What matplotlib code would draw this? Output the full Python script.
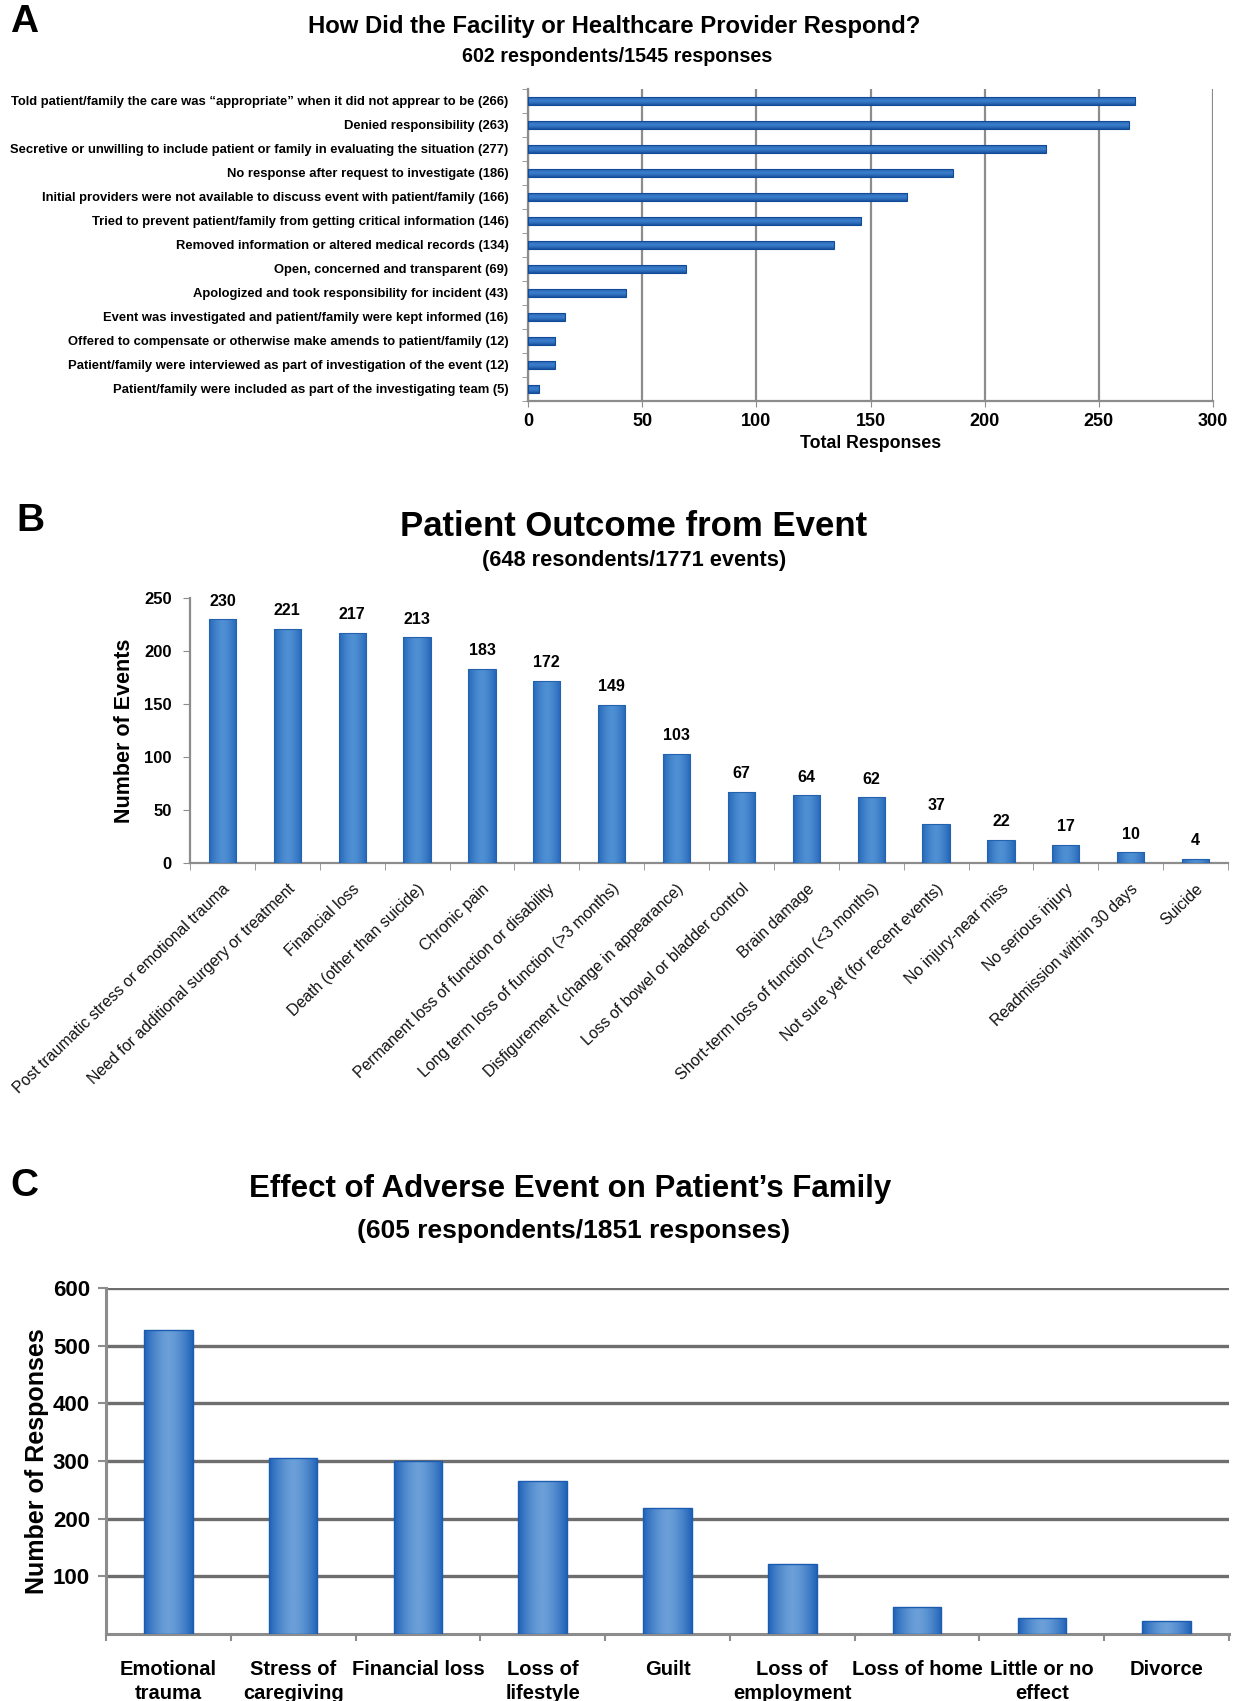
import numpy as np
import matplotlib
matplotlib.use("Agg")
import matplotlib.pyplot as plt
from matplotlib.colors import LinearSegmentedColormap
from matplotlib.ticker import FixedLocator, MultipleLocator

plt.rcParams["font.family"] = ["Liberation Sans", "DejaVu Sans"]

# --- Panel A: facility response (horizontal bars) ---
resp_labels = [
    "Told patient/family the care was \u201cappropriate\u201d when it did not apprear to be (266)",
    "Denied responsibility (263)",
    "Secretive or unwilling to include patient or family in evaluating the situation (277)",
    "No response after request to investigate (186)",
    "Initial providers were not available to discuss event with patient/family (166)",
    "Tried to prevent patient/family from getting critical information (146)",
    "Removed information or altered medical records (134)",
    "Open, concerned and transparent (69)",
    "Apologized and took responsibility for incident (43)",
    "Event was investigated and patient/family were kept informed (16)",
    "Offered to compensate or otherwise make amends to patient/family (12)",
    "Patient/family were interviewed as part of investigation of the event (12)",
    "Patient/family were included as part of the investigating team (5)",
]
resp_values = [266, 263, 227, 186, 166, 146, 134, 69, 43, 16, 12, 12, 5]

# --- Panel B: patient outcome ---
outcome_labels = [
    "Post traumatic stress or emotional trauma",
    "Need for additional surgery or treatment",
    "Financial loss",
    "Death (other than suicide)",
    "Chronic pain",
    "Permanent loss of function or disability",
    "Long term loss of function (>3 months)",
    "Disfigurement (change in appearance)",
    "Loss of bowel or bladder control",
    "Brain damage",
    "Short-term loss of function (<3 months)",
    "Not sure yet (for recent events)",
    "No injury-near miss",
    "No serious injury",
    "Readmission within 30 days",
    "Suicide",
]
outcome_values = [230, 221, 217, 213, 183, 172, 149, 103, 67, 64, 62, 37, 22, 17, 10, 4]

# --- Panel C: effect on family ---
family_labels = [
    "Emotional\ntrauma", "Stress of\ncaregiving", "Financial loss", "Loss of\nlifestyle",
    "Guilt", "Loss of\nemployment", "Loss of home", "Little or no\neffect", "Divorce",
]
family_values = [528, 305, 300, 265, 219, 122, 46, 27, 23]

W, H = 1241, 1701
fig = plt.figure(figsize=(W / 100, H / 100), dpi=100)


def box(x0, y0, x1, y1):
    # pixel box (top-left origin) -> figure fraction rect
    return [x0 / W, 1 - y1 / H, (x1 - x0) / W, (y1 - y0) / H]


def ftext(x, y, s, **kw):
    fig.text(x / W, 1 - y / H, s, **kw)


def shade(ax, bars, mid, edge, across_x=True):
    # soft "excel" gradient inside each bar, lighter in the middle
    cmap = LinearSegmentedColormap.from_list("bar", [mid, edge])
    g = np.abs(np.linspace(-1, 1, 64)) ** 1.6
    img = g[None, :] if across_x else g[:, None]
    for b in bars:
        x, y, w, h = b.get_x(), b.get_y(), b.get_width(), b.get_height()
        im = ax.imshow(img, extent=(x, x + w, y, y + h), cmap=cmap, vmin=0, vmax=1,
                       aspect="auto", zorder=3.1, interpolation="bilinear")
        im.set_clip_path(b)


grey = "#8c8c8c"

# ---------------- A ----------------
ax = fig.add_axes(box(528, 89, 1213, 401))
ya = np.arange(len(resp_values))
bars = ax.barh(ya, resp_values, height=0.37, color="#1d5db3", linewidth=0, zorder=3)
shade(ax, bars, "#3a7cc9", "#14509f", across_x=False)
ax.barh(ya, resp_values, height=0.37, fill=False, edgecolor="#124a98", linewidth=0.8, zorder=3.2)
ax.set_ylim(len(resp_values) - 0.5, -0.5)
ax.set_xlim(0, 300)
ax.xaxis.set_major_locator(MultipleLocator(50))
ax.grid(axis="x", color=grey, linewidth=1.6, zorder=0)
ax.set_yticks(ya)
ax.set_yticklabels(resp_labels, fontsize=9.4, fontweight="bold")
ax.tick_params(axis="y", length=0, pad=14)
ax.yaxis.set_minor_locator(FixedLocator(np.arange(-0.5, len(resp_values), 1)))
ax.tick_params(axis="y", which="minor", length=4, color=grey)
ax.tick_params(axis="x", length=4, color=grey, labelsize=13, pad=5)
for t in ax.get_xticklabels():
    t.set_fontweight("bold")
ax.set_xlabel("Total Responses", fontsize=12.8, fontweight="bold", labelpad=3)
for s in ["top", "right"]:
    ax.spines[s].set_visible(False)
for s in ["left", "bottom"]:
    ax.spines[s].set_color(grey)
    ax.spines[s].set_linewidth(1.6)

ftext(24, 22, "A", fontsize=28, fontweight="bold", ha="center", va="center")
ftext(614, 26, "How Did the Facility or Healthcare Provider Respond?", fontsize=17.2,
      fontweight="bold", ha="center", va="center")
ftext(617, 57, "602 respondents/1545 responses", fontsize=14.2, fontweight="bold",
      ha="center", va="center")

# ---------------- B ----------------
ax = fig.add_axes(box(190, 598, 1228, 863))
xb = np.arange(len(outcome_values))
bars = ax.bar(xb, outcome_values, width=0.42, color="#3b7cc6", linewidth=0, zorder=3)
shade(ax, bars, "#4f8fd3", "#2467b8")
ax.bar(xb, outcome_values, width=0.42, fill=False, edgecolor="#2462ad", linewidth=0.8, zorder=3.2)
for xi, v in zip(xb, outcome_values):
    ax.text(xi, v + 10, str(v), ha="center", va="bottom", fontsize=11.5, fontweight="bold")
ax.set_xlim(-0.5, len(outcome_values) - 0.5)
ax.set_ylim(0, 250)
ax.yaxis.set_major_locator(MultipleLocator(50))
ax.set_xticks(xb)
ax.set_xticklabels(outcome_labels, rotation=44, ha="right", va="top",
                   rotation_mode="anchor", fontsize=11.4, color="#111111")
ax.tick_params(axis="x", length=0, pad=13)
ax.xaxis.set_minor_locator(FixedLocator(np.arange(-0.5, len(outcome_values), 1)))
ax.tick_params(axis="x", which="minor", length=5, color=grey)
ax.tick_params(axis="y", length=5, color=grey, labelsize=12, pad=8)
for t in ax.get_yticklabels():
    t.set_fontweight("bold")
ax.set_ylabel("Number of Events", fontsize=15.5, fontweight="bold", labelpad=6.5)
for s in ["top", "right"]:
    ax.spines[s].set_visible(False)
for s in ["left", "bottom"]:
    ax.spines[s].set_color(grey)
    ax.spines[s].set_linewidth(1.6)

ftext(30, 521, "B", fontsize=28, fontweight="bold", ha="center", va="center")
ftext(634, 527, "Patient Outcome from Event", fontsize=25, fontweight="bold",
      ha="center", va="center")
ftext(634, 560, "(648 resondents/1771 events)", fontsize=15.7, fontweight="bold",
      ha="center", va="center")

# ---------------- C ----------------
ax = fig.add_axes(box(106, 1288, 1229, 1634))
xc = np.arange(len(family_values))
bars = ax.bar(xc, family_values, width=0.39, color="#4a88cf", linewidth=0, zorder=3)
shade(ax, bars, "#6a9fd8", "#2163b8")
ax.bar(xc, family_values, width=0.39, fill=False, edgecolor="#1c5cb0", linewidth=1.0, zorder=3.2)
ax.set_xlim(-0.5, len(family_values) - 0.5)
ax.set_ylim(0, 600)
ax.set_yticks([100, 200, 300, 400, 500, 600])
ax.grid(axis="y", color="#6e6e6e", linewidth=2.4, zorder=0)
ax.set_xticks(xc)
ax.set_xticklabels(family_labels, fontsize=14.5, fontweight="bold", va="top", linespacing=1.35)
ax.tick_params(axis="x", length=0, pad=18.5)
ax.xaxis.set_minor_locator(FixedLocator(np.arange(-0.5, len(family_values), 1)))
ax.tick_params(axis="x", which="minor", length=5, color=grey, width=1.5)
ax.tick_params(axis="y", length=6, width=1.5, color=grey, labelsize=16, pad=5.5)
for t in ax.get_yticklabels():
    t.set_fontweight("bold")
ax.set_ylabel("Number of Responses", fontsize=18, fontweight="bold", labelpad=3)
for s in ["top", "right"]:
    ax.spines[s].set_visible(False)
for s in ["left", "bottom"]:
    ax.spines[s].set_color(grey)
    ax.spines[s].set_linewidth(2.2)

ftext(24, 1186, "C", fontsize=28, fontweight="bold", ha="center", va="center")
ftext(570, 1189, "Effect of Adverse Event on Patient\u2019s Family", fontsize=22.5,
      fontweight="bold", ha="center", va="center")
ftext(574, 1231, "(605 respondents/1851 responses)", fontsize=19, fontweight="bold",
      ha="center", va="center")

fig.savefig("out.png", dpi=100)
